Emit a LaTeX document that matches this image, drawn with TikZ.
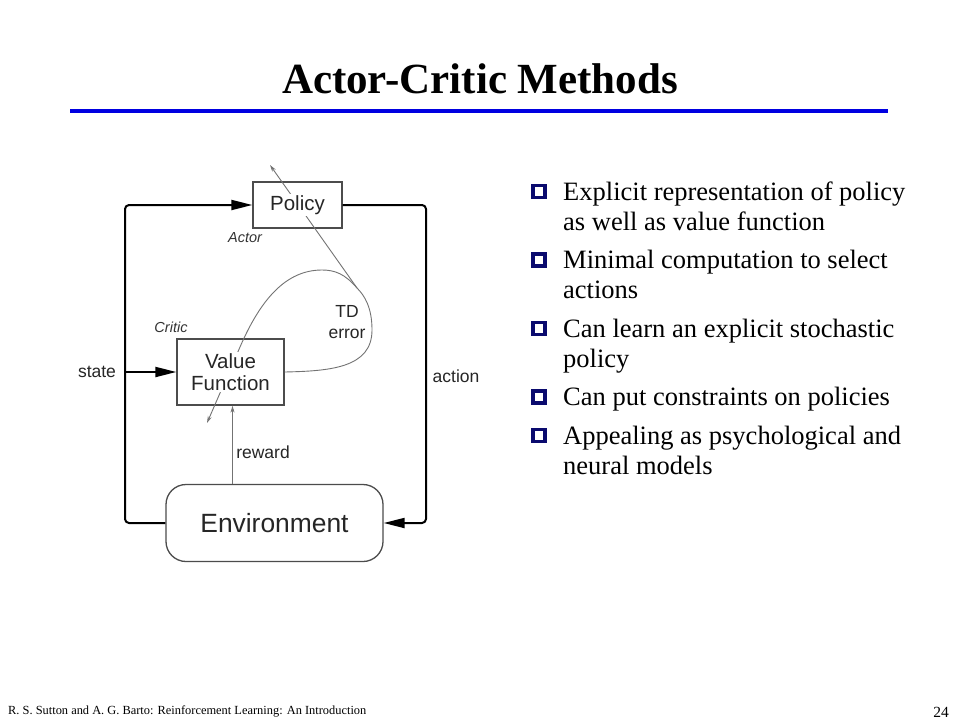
\documentclass[tikz,border=0pt]{standalone}
\usepackage{fontspec}
\setmainfont{Liberation Serif}
\newfontfamily\diagfont{Liberation Sans}
\usetikzlibrary{arrows.meta,positioning}
\definecolor{ruleblue}{RGB}{0,0,225}
\definecolor{bulletnavy}{RGB}{10,10,110}
\definecolor{boxgray}{gray}{0.3}
\definecolor{wiregray}{gray}{0.45}
\tikzset{
  box/.style={draw=boxgray, line width=1.3pt, inner sep=0pt},
  boxtext/.style={fill=white, inner sep=1.5pt, text=black!85, font=\diagfont\fontsize{20.5}{21.7}\selectfont, align=center},
  wire/.style={line width=2pt, line join=round, rounded corners=4pt, -{Triangle[length=21pt,width=10pt]}},
  thinwire/.style={wiregray, line width=0.9pt, -{Stealth[length=7pt,width=4pt]}},
  tag/.style={text=black!85, font=\diagfont\fontsize{17.5}{21}\selectfont, align=center},
  roletag/.style={text=black!80, font=\diagfont\itshape\fontsize{14.5}{16}\selectfont},
  bullet/.style={draw=bulletnavy, line width=3.6pt, minimum size=12pt, inner sep=0pt},
  itemtext/.style={anchor=base west, inner sep=0pt, font=\fontsize{26.5}{30}\selectfont}
}
\begin{document}
\begin{tikzpicture}[x=1pt, y=-1pt]
	\useasboundingbox (0,0) rectangle (960,720);
	\fill[white] (0,0) rectangle (960,720);

	% title
	\node[anchor=base, inner sep=0pt, font=\bfseries\fontsize{43}{46}\selectfont] (title) at (480,93) {Actor-Critic Methods};
	\draw[ruleblue, line width=4pt] (70,111.3) to (888,111.3);

	% boxes
	\node[box, minimum width=89pt, minimum height=46pt] (pol) at (297.5,205) {};
	\node[box, minimum width=107pt, minimum height=66pt] (vf) at (230.5,372) {};
	\node[box, rounded corners=20pt, minimum width=217pt, minimum height=77pt] (env) at (274.5,523) {};

	% state and action loops
	\coordinate (lft) at (125,372);
	\coordinate (rgt) at (426,523);
	\draw[wire]	(env.west) -| (lft) |- (pol.west);
	\draw[wire]	(lft) to (vf.west);
	\draw[wire]	(pol.east) -| (rgt) to (env.east);

	% reward
	\draw[thinwire]	([xshift=2pt]vf.south |- env.north) to ([xshift=2pt]vf.south);

	% TD error
	\coordinate (tde) at (357,288);
	\coordinate (polout) at (270,165);
	\coordinate (vfout) at (207,423);
	\draw[thinwire]	(vf.east) .. controls (330,371) and (372,368) .. (372,330)
					.. controls (372,308) and (365,296) .. (tde)
					.. controls (345,274) and (335,270) .. (322,270)
					.. controls (285,270) and (260,301) .. (240,347) -- (vfout);
	\draw[thinwire]	(tde) to (polout);

	\node[boxtext] (poltxt) at (pol) {Policy};
	\node[boxtext] (vftxt) at (vf) {Value\\Function};
	\node[boxtext, fill=none, font=\diagfont\fontsize{26.4}{28}\selectfont] (envtxt) at (env) {Environment};

	\node[roletag] (actor) at (245,238) {Actor};
	\node[roletag] (critic) at (171,327) {Critic};
	\node[tag] (td) at (347,322) {TD\\error};
	\node[tag] (state) at (97,372) {state};
	\node[tag] (action) at (456,376) {action};
	\node[tag] (reward) at (263,452) {reward};

	% bullet list
	\foreach \y [count=\i] in {200,268.5,337,405.5,444}
		\node[bullet] (mark\i) at (539,\y-8.5) {};
	\foreach \y/\t [count=\i] in {200/Explicit representation of policy, 230/as well as value function,
			268.5/Minimal computation to select, 298.5/actions,
			337/Can learn an explicit stochastic, 367/policy,
			405.5/Can put constraints on policies,
			444/Appealing as psychological and, 474/neural models}
		\node[itemtext] (line\i) at (563,\y) {\t};

	% footer
	\node[anchor=base west, inner sep=0pt, font=\fontsize{12.4}{14}\selectfont] (credit) at (8,714) {R. S. Sutton and A. G. Barto: Reinforcement Learning: An Introduction};
	\node[anchor=base east, inner sep=0pt, font=\fontsize{15.5}{17}\selectfont] (page) at (949,717) {24};
\end{tikzpicture}
\end{document}
